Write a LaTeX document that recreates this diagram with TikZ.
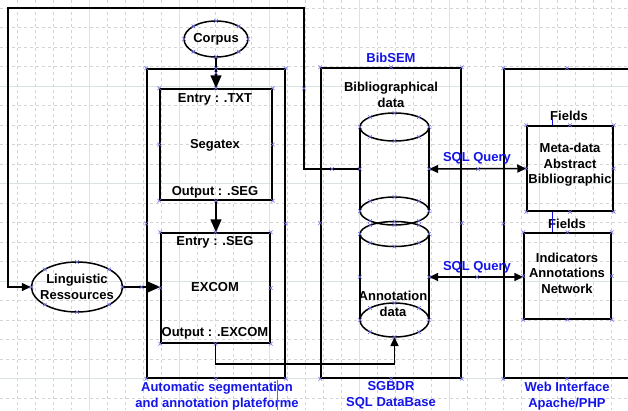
\documentclass[tikz,border=0pt]{standalone}
\usepackage{fontspec}
\setmainfont{Liberation Sans}
\usetikzlibrary{arrows.meta,shapes.geometric}

\definecolor{lblue}{RGB}{20,20,232}
\definecolor{markcol}{RGB}{110,110,225}
\definecolor{gridminor}{RGB}{212,212,212}
\definecolor{gridmajor}{RGB}{218,226,226}
\definecolor{slateline}{RGB}{110,110,150}

\tikzset{
  txt/.style={font=\bfseries\fontsize{13}{15.5}\selectfont, inner sep=0pt, align=center},
  bluetxt/.style={txt, text=lblue},
  line/.style={line width=1.5pt, black},
  smallarr/.style={line, -{Triangle[length=9pt,width=8pt]}},
  bigarr/.style={line, -{Triangle[length=13pt,width=11pt]}},
  duplex/.style={line, {Triangle[length=9pt,width=8pt]}-{Triangle[length=9pt,width=8pt]}},
  boxshape/.style={draw, line width=1.5pt, rectangle, inner sep=0pt},
  ovalshape/.style={draw, line width=1.5pt, ellipse, inner sep=0pt},
  anchorbox/.style={rectangle, inner sep=0pt},
  xcross/.pic={\draw[markcol, line width=0.6pt] (-1.8,-1.8) -- (1.8,1.8) (-1.8,1.8) -- (1.8,-1.8);}
}

\begin{document}
\begin{tikzpicture}[x=1pt, y=-1pt]
\useasboundingbox (0,0) rectangle (628,410);
\clip (0,0) rectangle (628,410);

% background grid
\foreach \gx in {-1,17,...,629} {
  \draw[gridminor, line width=0.5pt, dash pattern=on 3pt off 3pt] (\gx,0) -- (\gx,410);
}
\foreach \gy in {8,27.5,...,410} {
  \draw[gridminor, line width=0.5pt, dash pattern=on 3pt off 3pt] (0,\gy) -- (628,\gy);
}
\foreach \gx in {89,179,...,629} {
  \draw[gridmajor, line width=0.7pt] (\gx,0) -- (\gx,410);
}
\foreach \gy in {86,183.5,281,378.5} {
  \draw[gridmajor, line width=0.7pt] (0,\gy) -- (628,\gy);
}

% frames
\node[boxshape, minimum width=138pt, minimum height=309pt] (auto) at (216,223.5) {};
\node[boxshape, minimum width=140pt, minimum height=310pt] (bib) at (391,223) {};
\node[boxshape, minimum width=126pt, minimum height=309pt] (web) at (567,223.5) {};

% processing chain
\node[ovalshape, minimum width=64pt, minimum height=36pt] (corpus) at (216,39) {};
\node[txt] at (corpus.center) {Corpus};
\node[boxshape, minimum width=112pt, minimum height=111pt] (seg) at (216,144.5) {};
\node[txt] at (215,99) {Entry : .TXT};
\node[txt] at (215,145) {Segatex};
\node[txt] at (215,192) {Output : .SEG};
\node[boxshape, minimum width=109pt, minimum height=110pt] (excom) at (215.5,288) {};
\node[txt] at (215,242) {Entry : .SEG};
\node[txt] at (215,287) {EXCOM};
\node[txt] at (215,333) {Output : .EXCOM};
\node[ovalshape, minimum width=91pt, minimum height=50pt] (ling) at (77,287) {};
\node[txt] at (77,287) {Linguistic\\Ressources};

% database cylinders
\draw[line] (360,234) -- (360,320) (429,234) -- (429,320);
\draw[line] (394.5,234) ellipse (34.5 and 12.5);
\draw[line] (394.5,320) ellipse (34.5 and 17);
\draw[line] (360,127) -- (360,211) (429,127) -- (429,211);
\draw[line] (394.5,127) ellipse (34.5 and 14);
\draw[line] (394.5,211) ellipse (34.5 and 14);
\node[anchorbox, minimum width=69pt, minimum height=84pt] (dbA) at (394.5,169) {};
\node[anchorbox, minimum width=69pt, minimum height=86pt] (dbB) at (394.5,277) {};
\coordinate (dbBbase) at (394.5,337);
\node[txt] at (391,95) {Bibliographical\\data};
\node[txt] at (393,304) {Annotation\\data};

% field boxes
\node[boxshape, minimum width=86pt, minimum height=85pt] (f1) at (570,168.5) {};
\node[txt] at (570,165) {Meta-data\\Abstract\\Bibliographic};
\node[boxshape, minimum width=87pt, minimum height=86pt] (f2) at (567.5,276) {};
\node[txt] at (567,273) {Indicators\\Annotations\\Network};
\node[txt] at (569,116) {Fields};
\node[txt] at (567,224) {Fields};
\draw[lblue, line width=0.8pt] (552,119) -- (f1.north -| 552,0);
\draw[lblue, line width=0.8pt] (f1.south -| 552,0) -- (f2.north -| 552,0);

% captions
\node[bluetxt] at (391,58) {BibSEM};
\node[bluetxt] at (217,396) {Automatic segmentation\\and annotation plateforme};
\node[bluetxt] at (391,395) {SGBDR\\SQL DataBase};
\node[bluetxt] at (567,396) {Web Interface\\Apache/PHP};
\draw[slateline, line width=0.8pt] (277,380) -- (277,410);

% connectors
\draw[smallarr] (dbA.west) -- (304,169) |- (8,8) |- (ling.west);
\draw[bigarr] (corpus.south) -- (seg.north);
\draw[bigarr] (seg.south) -- (seg.south |- excom.north);
\draw[bigarr] (ling.east) -- (ling.east -| excom.west);
\draw[smallarr] (excom.south) -- ++(0,20) -| (dbBbase);
\draw[duplex] (dbA.east) -- (f1.west);
\draw[duplex] (dbB.east) -- (dbB.east -| f2.west);
\node[bluetxt] at (477,158) {SQL Query};
\node[bluetxt] at (477,267) {SQL Query};

% connection marks
\foreach \n in {auto,bib,web,seg,excom,f1,f2} {
  \foreach \a in {north,south,east,west,north east,north west,south east,south west} {
    \path (\n.\a) pic{xcross};
  }
}
\foreach \t in {0,45,...,315} {
  \path (corpus.center) ++({32*cos(\t)},{18*sin(\t)}) pic{xcross};
  \path (ling.center) ++({45.5*cos(\t)},{25*sin(\t)}) pic{xcross};
  \path (394.5,127) ++({34.5*cos(\t)},{14*sin(\t)}) pic{xcross};
  \path (394.5,211) ++({34.5*cos(\t)},{14*sin(\t)}) pic{xcross};
  \path (394.5,234) ++({34.5*cos(\t)},{12.5*sin(\t)}) pic{xcross};
  \path (394.5,320) ++({34.5*cos(\t)},{17*sin(\t)}) pic{xcross};
}
\foreach \p in {(dbA.west),(dbA.east),(dbB.west),(dbB.east),(332,169),(478,169),(477,277),(141.5,287),(304,88.5),(216,73)} {
  \path \p pic{xcross};
}
\end{tikzpicture}
\end{document}
